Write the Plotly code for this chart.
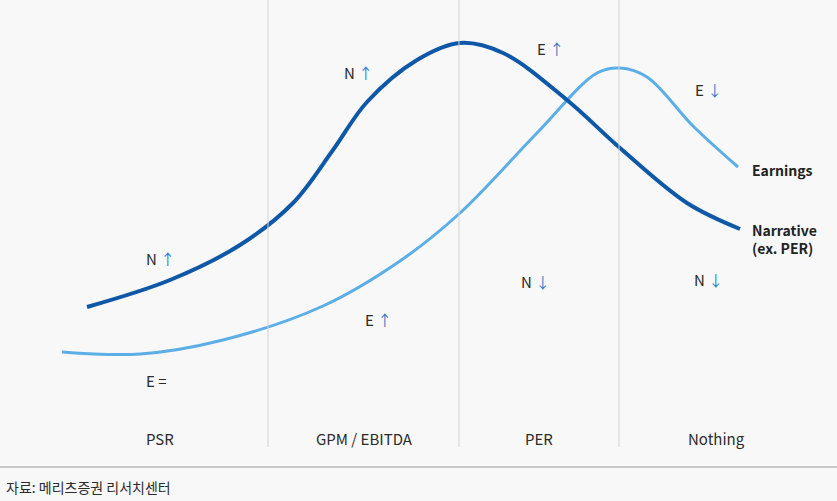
import plotly.graph_objects as go

# pixel-like coordinates of the concept curves (x right, y down)
narr_x = [87, 170, 240, 293, 333, 367, 417, 460, 503, 567, 620, 687, 740]
narr_y = [307, 280, 245, 203, 150, 102, 60, 43, 53, 100, 148, 203, 229]

earn_x = [62, 140, 223, 323, 400, 460, 537, 597, 620, 647, 693, 738]
earn_y = [352, 354, 340, 306, 261, 213, 133, 73, 68, 77, 126, 167]

dividers = [268, 459, 619]
stages = ["PSR", "GPM / EBITDA", "PER", "Nothing"]
stage_x = [160, 364, 539, 716]

# annotation texts: letter, arrow, x, y
marks = [("N", "↑", 160, 258), ("N", "↑", 358, 72), ("E", "↑", 550, 48), ("E", "↓", 708, 89),
         ("N", "↓", 535, 281), ("N", "↓", 708, 279), ("E", "↑", 378, 319), ("E", "=", 156, 380)]

DARK = "#0f58a8"
LIGHT = "#5caee6"
TXT = "#2b2b2b"
FONT = "Noto Sans CJK KR"

fig = go.Figure()

for d in dividers:
    fig.add_shape(type="line", x0=d, x1=d, y0=0, y1=447, line=dict(color="#d2d2d2", width=1))
fig.add_shape(type="line", x0=0, x1=837, y0=467, y1=467, line=dict(color="#9a9a9a", width=1.2))

fig.add_trace(go.Scatter(x=earn_x, y=earn_y, mode="lines",
                         line=dict(color=LIGHT, width=3, shape="spline", smoothing=1.0),
                         name="Earnings", showlegend=False))
fig.add_trace(go.Scatter(x=narr_x, y=narr_y, mode="lines",
                         line=dict(color=DARK, width=4, shape="spline", smoothing=1.0),
                         name="Narrative", showlegend=False))

for letter, arrow, x, y in marks:
    ac = TXT if arrow == "=" else "#2f7cc4"
    fig.add_annotation(x=x, y=y, text=f"{letter} <span style='color:{ac}'>{arrow}</span>",
                       showarrow=False, font=dict(size=15, color=TXT, family=FONT))

for s, x in zip(stages, stage_x):
    fig.add_annotation(x=x, y=438, text=s, showarrow=False, font=dict(size=15, color=TXT, family=FONT))

fig.add_annotation(x=750, y=170, text="<b>Earnings</b>", showarrow=False, xanchor="left",
                   font=dict(size=14, color="#222222", family=FONT))
fig.add_annotation(x=750, y=239, text="<b>Narrative<br>(ex. PER)</b>", showarrow=False, xanchor="left",
                   align="left", font=dict(size=14, color="#222222", family=FONT))

fig.add_annotation(x=4, y=487, text="자료: 메리츠증권 리서치센터", showarrow=False, xanchor="left",
                   font=dict(size=14, color=TXT, family=FONT))

fig.update_layout(
    width=837, height=501,
    margin=dict(l=0, r=0, t=0, b=0),
    paper_bgcolor="#f8f8f8", plot_bgcolor="#f8f8f8",
    xaxis=dict(range=[0, 837], visible=False, fixedrange=True),
    yaxis=dict(range=[501, 0], visible=False, fixedrange=True),
)

fig.write_html("out.html", config={"displayModeBar": False},
               post_script="document.body.style.margin='0';document.body.style.overflow='hidden';")
